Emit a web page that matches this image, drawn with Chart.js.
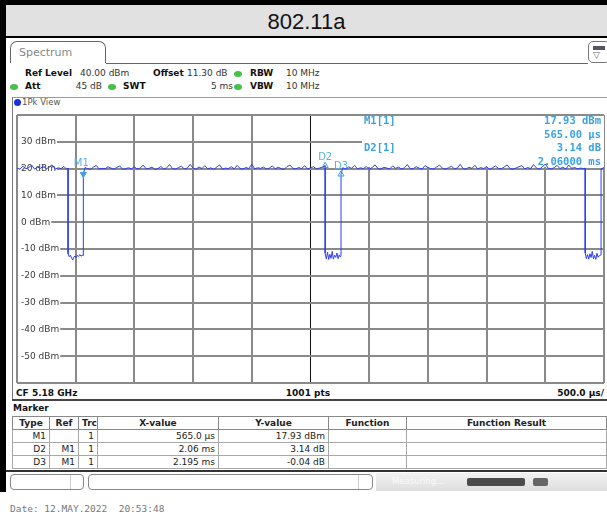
<!DOCTYPE html>
<html>
<head>
<meta charset="utf-8">
<script src="https://cdn.jsdelivr.net/npm/chart.js@4.4.1/dist/chart.umd.min.js"></script>
<style>
html, body { margin: 0; padding: 0; width: 607px; height: 516px; overflow: hidden; background: #fff; }
body { position: relative; font-family: "DejaVu Sans", sans-serif; font-size: 9px; color: #333; }
.abs { position: absolute; white-space: pre; }
.lbl { font-weight: bold; color: #111; }
.dot { position: absolute; width: 8px; height: 6px; border-radius: 50%; background: #46c046; }
#mk { position: absolute; left: 12px; top: 416px; width: 594px; border-collapse: collapse; table-layout: fixed; font-size: 9px; color: #222; }
#mk th, #mk td { border: 1px solid #a8a8a8; height: 12px; line-height: 12px; padding: 0 3px; overflow: hidden; white-space: nowrap; }
#mk th { font-weight: bold; text-align: center; border-color: #888; }
#mk td { text-align: right; }
</style>
</head>
<body>

<!-- rahmen + titel -->
<div class="abs" style="left:0;top:0;width:607px;height:5px;background:#000"></div>
<div class="abs" style="left:0;top:0;width:6px;height:492px;background:#000"></div>
<div class="abs" style="left:6px;top:5px;width:601px;height:31px;background:#e1e1e1;font:22px 'Liberation Sans',Arial,sans-serif;line-height:33px;text-align:center;color:#111">802.11a</div>
<div class="abs" style="left:0;top:36px;width:607px;height:2px;background:#000"></div>

<!-- tab -->
<div class="abs" style="left:10px;top:41px;width:96px;height:22px;border:1px solid #666;border-bottom:none;border-radius:7px 7px 0 0;font-size:11px;line-height:22px;color:#888;padding-left:8px;box-sizing:border-box">Spectrum</div>
<div class="abs" style="left:106px;top:63px;width:482px;height:1px;background:#666"></div>
<div class="abs" style="left:588px;top:41px;width:22px;height:22px;border:1px solid #777;border-radius:5px;box-sizing:border-box">
  <div class="abs" style="left:4px;top:4px;width:12px;height:4px;background:#556"></div>
  <div class="abs" style="left:4px;top:8px;font-size:9px;color:#666">▽</div>
</div>

<!-- einstellungen -->
<div class="abs lbl" style="left:25px;top:68px">Ref Level</div>
<div class="abs" style="left:80px;top:68px">40.00 dBm</div>
<div class="abs lbl" style="left:153px;top:68px">Offset</div>
<div class="abs" style="left:187px;top:68px">11.30 dB</div>
<div class="dot" style="left:234px;top:71px"></div>
<div class="abs lbl" style="left:250px;top:68px">RBW</div>
<div class="abs" style="left:286px;top:68px">10 MHz</div>

<div class="dot" style="left:10px;top:84px"></div>
<div class="abs lbl" style="left:25px;top:81px">Att</div>
<div class="abs" style="left:60px;top:81px;width:42px;text-align:right">45 dB</div>
<div class="dot" style="left:108px;top:84px"></div>
<div class="abs lbl" style="left:123px;top:81px">SWT</div>
<div class="abs" style="left:190px;top:81px;width:43px;text-align:right">5 ms</div>
<div class="dot" style="left:234px;top:84px"></div>
<div class="abs lbl" style="left:250px;top:81px">VBW</div>
<div class="abs" style="left:286px;top:81px">10 MHz</div>

<!-- 1Pk View -->
<div class="abs" style="left:12px;top:97px;width:597px;height:1px;background:#999"></div>
<div class="abs" style="left:12px;top:97px;width:1px;height:303px;background:#777"></div>
<div class="abs" style="left:14px;top:99px;width:7px;height:7px;border-radius:50%;background:#1532e6"></div>
<div class="abs" style="left:22px;top:97px;line-height:10px;font-size:8.5px;color:#555">1Pk View</div>

<canvas id="trace" width="597" height="278" style="position:absolute;left:12px;top:110px"></canvas>

<!-- CF leiste -->
<div class="abs lbl" style="left:16px;top:388px;line-height:11px">CF 5.18 GHz</div>
<div class="abs lbl" style="left:258px;top:388px;width:100px;text-align:center;line-height:11px">1001 pts</div>
<div class="abs lbl" style="left:504px;top:388px;width:100px;text-align:right;line-height:11px">500.0 µs/</div>
<div class="abs" style="left:12px;top:399px;width:595px;height:2px;background:#444"></div>

<!-- marker tabelle -->
<div class="abs lbl" style="left:13px;top:403px;line-height:10px">Marker</div>
<table id="mk">
  <colgroup><col style="width:37px"><col style="width:29px"><col style="width:19px"><col style="width:121px"><col style="width:110px"><col style="width:78px"><col style="width:200px"></colgroup>
  <thead><tr><th>Type</th><th>Ref</th><th>Trc</th><th>X-value</th><th>Y-value</th><th>Function</th><th>Function Result</th></tr></thead>
  <tbody id="mkBody"></tbody>
</table>
<div class="abs" style="left:6px;top:470px;width:601px;height:2px;background:#333"></div>

<!-- statuszeile -->
<div class="abs" style="left:10px;top:474px;width:74px;height:16px;border:1px solid #888;border-radius:4px;box-sizing:border-box"></div>
<div class="abs" style="left:70px;top:475px;width:1px;height:14px;background:#ccc"></div>
<div class="abs" style="left:88px;top:474px;width:285px;height:16px;border:1px solid #888;border-radius:4px;box-sizing:border-box"></div>
<div class="abs" style="left:358px;top:475px;width:1px;height:14px;background:#ccc"></div>
<div class="abs" style="left:376px;top:473px;width:231px;height:18px;background:linear-gradient(#f2f2f2,#dedede)"></div>
<div class="abs" style="left:392px;top:476px;color:#fafafa;font-size:8.5px">Measuring...</div>
<div class="abs" style="left:467px;top:478px;width:58px;height:8px;background:#4a4a4a;border-radius:2px"></div>
<div class="abs" style="left:533px;top:478px;width:15px;height:8px;background:#666;border-radius:2px"></div>

<div class="abs" style="left:10px;top:503px;font:9.5px 'DejaVu Sans Mono',monospace;color:#777">Date: 12.MAY.2022  20:53:48</div>

<script>
// sweep: 5 ms, zeit in µs, pegel in dBm
const sweepUs = [
  0, 25, 50, 75, 100, 125, 150, 175, 200, 225, 250, 275, 300, 325, 350, 375, 400, 420, 435,
  435, 445, 455, 465, 475, 485, 495, 505, 515, 525, 535, 545, 555, 565,
  565, 580,
  600, 625, 650, 675, 700, 725, 750, 775, 800, 825,
  850, 875, 900, 925, 950, 975, 1000, 1025, 1050, 1075,
  1100, 1125, 1150, 1175, 1200, 1225, 1250, 1275, 1300, 1325,
  1350, 1375, 1400, 1425, 1450, 1475, 1500, 1525, 1550, 1575,
  1600, 1625, 1650, 1675, 1700, 1725, 1750, 1775, 1800, 1825,
  1850, 1875, 1900, 1925, 1950, 1975, 2000, 2025, 2050, 2075,
  2100, 2125, 2150, 2175, 2200, 2225, 2250, 2275, 2300, 2325,
  2350, 2375, 2400, 2425, 2450, 2475, 2500, 2525, 2550, 2575,
  2600, 2625,
  2625, 2635, 2645, 2655, 2665, 2675, 2685, 2695, 2705, 2715, 2725, 2735, 2745, 2755, 2760,
  2760, 2775,
  2800, 2825, 2850, 2875, 2900, 2925, 2950, 2975, 3000, 3025,
  3050, 3075, 3100, 3125, 3150, 3175, 3200, 3225, 3250, 3275,
  3300, 3325, 3350, 3375, 3400, 3425, 3450, 3475, 3500, 3525,
  3550, 3575, 3600, 3625, 3650, 3675, 3700, 3725, 3750, 3775,
  3800, 3825, 3850, 3875, 3900, 3925, 3950, 3975, 4000, 4025,
  4050, 4075, 4100, 4125, 4150, 4175, 4200, 4225, 4250, 4275,
  4300, 4325, 4350, 4375, 4400, 4425, 4450, 4475, 4500, 4525,
  4550, 4575, 4600, 4625, 4650, 4675, 4700, 4725, 4750, 4775,
  4800, 4825, 4840,
  4840, 4850, 4860, 4870, 4880, 4890, 4900, 4910, 4920, 4930, 4940, 4950, 4960, 4975,
  4975, 5000
];
const traceDbm = [
  20.2, 19.8, 20.9, 19.9, 20.4, 21.3, 19.8, 20.5, 20.1, 21.0, 19.9, 20.6, 21.4, 19.8, 20.3, 20.0, 20.8, 19.9, 20.1,
  -11.8, -12.9, -12.3, -13.4, -14.1, -13.0, -12.6, -13.2, -12.4, -12.8, -12.1, -12.7, -12.3, -12.5,
  17.93, 20.4,
  20.0, 19.7, 20.5, 21.2, 19.8, 20.1, 19.9, 20.7, 20.2, 19.8,
  20.4, 21.0, 19.7, 20.0, 20.3, 19.9, 20.6, 19.8, 20.2, 21.3,
  19.9, 20.1, 20.5, 19.7, 20.0, 20.8, 19.8, 20.3, 21.5, 20.0,
  19.8, 20.4, 20.9, 19.9, 20.2, 21.6, 20.1, 19.8, 20.6, 20.0,
  21.1, 19.9, 20.3, 19.7, 20.5, 21.4, 19.8, 20.2, 20.0, 20.7,
  19.9, 21.2, 20.1, 19.8, 20.4, 20.0, 21.7, 19.9, 20.3, 20.1,
  20.6, 19.8, 20.2, 21.0, 19.9, 20.5, 20.0, 19.7, 20.8, 21.3,
  20.1, 19.9, 20.4, 20.0, 21.1, 19.8, 20.3, 20.7, 19.9, 20.2,
  20.5, 21.07,
  -11.6, -13.7, -11.2, -13.9, -12.0, -13.5, -10.9, -13.8, -12.3, -13.1, -11.5, -13.6, -12.2, -13.0, -12.4,
  17.89, 20.3,
  19.8, 20.6, 20.1, 21.2, 19.9, 20.3, 20.0, 20.8, 19.7, 20.4,
  21.4, 20.0, 19.8, 20.5, 20.2, 19.9, 21.0, 20.1, 20.6, 19.8,
  20.3, 21.5, 19.9, 20.0, 20.7, 20.2, 19.8, 21.1, 20.4, 20.0,
  19.9, 20.6, 21.3, 20.1, 19.8, 20.3, 20.9, 19.9, 20.2, 21.6,
  20.0, 19.8, 20.5, 20.1, 21.2, 19.9, 20.4, 20.0, 20.8, 19.7,
  20.3, 21.0, 20.1, 19.9, 20.6, 21.4, 20.0, 19.8, 20.2, 20.7,
  21.1, 19.9, 20.4, 20.0, 21.5, 20.2, 19.8, 20.6, 21.7, 20.1,
  19.9, 20.3, 21.2, 20.0, 20.5, 19.8, 21.3, 20.1, 20.4, 19.9,
  20.2, 20.0, 20.1,
  -11.5, -13.6, -12.1, -13.8, -11.8, -13.2, -10.9, -13.7, -12.3, -13.9, -11.6, -13.1, -12.5, -12.2,
  19.9, 20.3
];

// achsen
const levelTicks = [30, 20, 10, 0, -10, -20, -30, -40, -50];
const levelUnit = 'dBm';

// marker
const markerNames = ['M1', 'D2', 'D3'];
const markerTimesUs = [565, 2625, 2760];
const markerLevels = [17.93, 21.07, 17.89];
const markerRefs = ['', 'M1', 'M1'];
const markerTrc = ['1', '1', '1'];
const markerXText = ['565.0 µs', '2.06 ms', '2.195 ms'];
const markerYText = ['17.93 dBm', '3.14 dB', '-0.04 dB'];

// marker info oben rechts
const readoutNames = ['M1[1]', 'D2[1]'];
const readoutLevel = ['17.93 dBm', '3.14 dB'];
const readoutTime = ['565.00 µs', '2.06000 ms'];

// tabelle fuellen
const tbody = document.getElementById('mkBody');
markerNames.forEach((n, i) => {
    const tr = document.createElement('tr');
    [n, markerRefs[i], markerTrc[i], markerXText[i], markerYText[i], '', ''].forEach(t => {
        const td = document.createElement('td');
        td.textContent = t;
        tr.appendChild(td);
    });
    tbody.appendChild(tr);
});

const markerBlue = '#3aa2e4';

// pegel-beschriftung im diagramm, marker-infobox, marker-namen
const overlayPlugin = {
    id: 'overlay',
    beforeDatasetsDraw(chart) {
        const ctx = chart.ctx;
        const a = chart.chartArea;
        const y = chart.scales.y;
        ctx.save();

        ctx.font = '9px "DejaVu Sans"';
        ctx.textBaseline = 'middle';
        levelTicks.forEach(v => {
            const py = y.getPixelForValue(v);
            const txt = v + ' ' + levelUnit;
            const w = ctx.measureText(txt).width;
            ctx.fillStyle = '#fff';
            ctx.fillRect(a.left + 1, py - 2, w + 4, 4);
            ctx.fillStyle = '#3c3c3c';
            ctx.fillText(txt, a.left + 4, py);
        });

        // infobox deckt das gitter ab
        const bx = a.left + 345;
        ctx.fillStyle = '#fff';
        ctx.fillRect(bx, a.top + 1, a.right - bx, 51);
        ctx.fillStyle = markerBlue;
        ctx.font = 'bold 10.5px "DejaVu Sans Mono"';
        readoutNames.forEach((n, i) => {
            const ry = a.top + 6.5 + i * 27;
            ctx.textAlign = 'left';
            ctx.fillText(n, bx + 2, ry);
            ctx.textAlign = 'right';
            ctx.fillText(readoutLevel[i], a.right - 3, ry);
            ctx.fillText(readoutTime[i], a.right - 3, ry + 13.5);
        });

        // marker-namen
        const pts = chart.getDatasetMeta(0).data;
        ctx.font = '10px "DejaVu Sans"';
        ctx.textAlign = 'center';
        ctx.fillStyle = '#55b2ea';
        markerNames.forEach((n, i) => {
            const p = pts[i];
            const dy = n[0] === 'M' ? -11 : -8;
            ctx.fillText(n, p.x - (n[0] === 'M' ? 2 : 0), p.y + dy);
        });
        ctx.restore();
    }
};

new Chart(document.getElementById('trace'), {
    type: 'line',
    data: {
        datasets: [{
            // marker zuerst -> liegt oben
            data: markerTimesUs.map((t, i) => ({ x: t, y: markerLevels[i] })),
            showLine: false,
            pointStyle: 'triangle',
            pointRadius: 3.5,
            rotation: markerNames.map(n => n[0] === 'M' ? 180 : 0),
            pointBackgroundColor: markerNames.map(n => n[0] === 'M' ? markerBlue : 'rgba(255,255,255,0)'),
            pointBorderColor: markerBlue,
            pointBorderWidth: 1
        }, {
            data: sweepUs.map((t, i) => ({ x: t, y: traceDbm[i] })),
            borderColor: '#2d3ff0',
            borderWidth: 1,
            pointRadius: 0,
            tension: 0,
            fill: false
        }]
    },
    options: {
        responsive: false,
        animation: false,
        events: [],
        layout: { padding: { left: 1, top: 1, right: 0, bottom: 1 } },
        plugins: {
            legend: { display: false },
            tooltip: { enabled: false }
        },
        scales: {
            x: {
                type: 'linear',
                min: 0,
                max: 5000,
                ticks: { display: false, stepSize: 500 },
                grid: {
                    drawTicks: false,
                    color: c => c.tick.value === 2500 ? '#111' : '#8a8a8a',
                    lineWidth: c => c.tick.value === 2500 ? 1 : 2
                },
                border: { display: false },
                afterFit: s => { s.height = 0; }
            },
            y: {
                min: -60,
                max: 40,
                ticks: { display: false, stepSize: 10 },
                grid: { drawTicks: false, color: '#8a8a8a', lineWidth: 2 },
                border: { display: false },
                afterFit: s => { s.width = 0; }
            }
        }
    },
    plugins: [overlayPlugin]
});
</script>
</body>
</html>
